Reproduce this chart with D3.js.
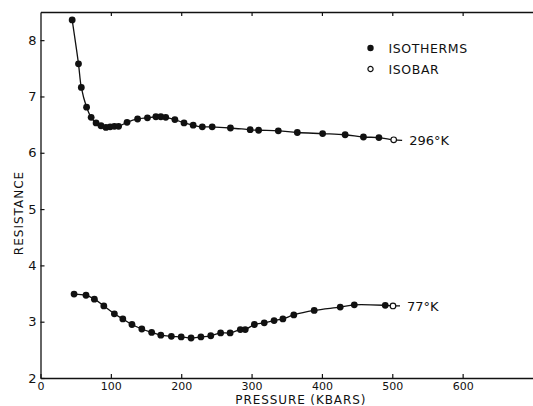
<!DOCTYPE html>
<html>
<head>
<meta charset="utf-8">
<script src="https://cdn.jsdelivr.net/npm/d3@7"></script>
<style>
  body { margin: 0; background: #fff; }
  svg text { font-family: "DejaVu Sans", sans-serif; fill: #111; }
</style>
</head>
<body>
<svg id="chart" width="533" height="406"></svg>
<script>
// pressure (kbars), resistance
const iso296 = [
  [45, 8.36], [54, 7.58], [58, 7.16], [65.5, 6.81], [72, 6.63], [79, 6.53], [86, 6.48],
  [93, 6.45], [99, 6.46], [105, 6.47], [111, 6.47], [123, 6.54], [138, 6.60], [152, 6.62],
  [164, 6.64], [171, 6.64], [178, 6.63], [191, 6.59], [204, 6.53], [217, 6.49], [230, 6.46],
  [244, 6.46], [270, 6.44], [298, 6.41], [310, 6.40], [338, 6.39], [365, 6.36], [401, 6.34],
  [433, 6.32], [459, 6.28], [481, 6.27]
];
const isobar296 = [[502, 6.23]];
const tail296 = [[514, 6.22]];

const iso77 = [
  [47.7, 3.49], [64.7, 3.47], [76.6, 3.40], [90, 3.28], [105, 3.14], [117, 3.05], [130, 2.95],
  [144, 2.87], [158, 2.81], [171, 2.76], [186, 2.74], [200, 2.73], [214, 2.71], [228, 2.73],
  [242, 2.75], [256, 2.80], [269.5, 2.80], [284, 2.86], [291, 2.86], [304, 2.95], [318, 2.98],
  [332, 3.02], [344.5, 3.05], [360, 3.12], [389, 3.20], [426, 3.26], [446, 3.30], [490, 3.29]
];
const isobar77 = [[501, 3.28]];
const tail77 = [[511, 3.28]];

const xTicks = [0, 100, 200, 300, 400, 500, 600];
const yTicks = [2, 3, 4, 5, 6, 7, 8];
const curveLabels = [
  { text: "296°K", p: 524, r: 6.22 },
  { text: "77°K", p: 521, r: 3.28 }
];
const legendItems = [
  { text: "ISOTHERMS", filled: true },
  { text: "ISOBAR", filled: false }
];

const svg = d3.select("#chart");
const margin = { left: 40.5, top: 12, right: 0, bottom: 28 };
const width = 533 - margin.left - margin.right;
const height = 406 - margin.top - margin.bottom;

const x = d3.scaleLinear().domain([0, 700]).range([0, width]);
const y = d3.scaleLinear().domain([2, 8.5]).range([height, 0]);

const g = svg.append("g").attr("transform", `translate(${margin.left},${margin.top})`);

// axes, ticks pointing inward
const xAxis = g.append("g")
  .attr("transform", `translate(0,${height})`)
  .call(d3.axisBottom(x).tickValues(xTicks).tickSizeInner(-4).tickSizeOuter(0).tickPadding(4));
const xTop = g.append("g")
  .call(d3.axisTop(x).tickValues(xTicks.slice(1)).tickSizeInner(-4).tickSizeOuter(0).tickFormat(""));
const yAxis = g.append("g")
  .call(d3.axisLeft(y).tickValues(yTicks).tickFormat(d3.format("d")).tickSizeInner(-4).tickSizeOuter(0).tickPadding(4));

[xAxis, xTop, yAxis].forEach(a => {
  a.select(".domain").attr("stroke", "#111").attr("stroke-width", 1.3);
  a.selectAll(".tick line").attr("stroke", "#111").attr("stroke-width", 1.2);
  a.selectAll(".tick text").attr("fill", "#111");
});
xAxis.selectAll(".tick text").style("font-size", "11px");
yAxis.selectAll(".tick text").style("font-size", "13px");

// axis titles
g.append("text")
  .attr("x", x(370)).attr("y", height + 26)
  .attr("text-anchor", "middle")
  .style("font-size", "12px").style("letter-spacing", "0.9px")
  .text("PRESSURE (KBARS)");

g.append("text")
  .attr("transform", `translate(${23 - margin.left},${y(4.93)}) rotate(-90)`)
  .attr("text-anchor", "middle")
  .style("font-size", "12px").style("letter-spacing", "1px")
  .text("RESISTANCE");

const line = d3.line()
  .x(d => x(d[0]))
  .y(d => y(d[1]))
  .curve(d3.curveCatmullRom.alpha(0.5));

[[iso296, isobar296, tail296], [iso77, isobar77, tail77]].forEach(([pts, bar, tail]) => {
  g.append("path")
    .datum(pts.concat(bar, tail))
    .attr("fill", "none")
    .attr("stroke", "#111")
    .attr("stroke-width", 1.3)
    .attr("d", line);

  g.selectAll(null)
    .data(pts)
    .join("circle")
    .attr("cx", d => x(d[0]))
    .attr("cy", d => y(d[1]))
    .attr("r", 3.4)
    .attr("fill", "#111");

  g.selectAll(null)
    .data(bar)
    .join("circle")
    .attr("cx", d => x(d[0]))
    .attr("cy", d => y(d[1]))
    .attr("r", 2.8)
    .attr("fill", "#fff")
    .attr("stroke", "#111")
    .attr("stroke-width", 1.2);
});

curveLabels.forEach(l => {
  g.append("text")
    .attr("x", x(l.p))
    .attr("y", y(l.r) + 5)
    .style("font-size", "13px")
    .text(l.text);
});

// legend
const legend = g.append("g").attr("transform", `translate(${370.5 - margin.left},${48 - margin.top})`);
legendItems.forEach((item, i) => {
  const row = legend.append("g").attr("transform", `translate(0,${i * 21})`);
  row.append("circle")
    .attr("r", item.filled ? 3.2 : 2.6)
    .attr("fill", item.filled ? "#111" : "#fff")
    .attr("stroke", "#111")
    .attr("stroke-width", item.filled ? 0 : 1.2);
  row.append("text")
    .attr("x", 18).attr("y", 5)
    .style("font-size", "12.5px").style("letter-spacing", "0.6px")
    .text(item.text);
});
</script>
</body>
</html>
